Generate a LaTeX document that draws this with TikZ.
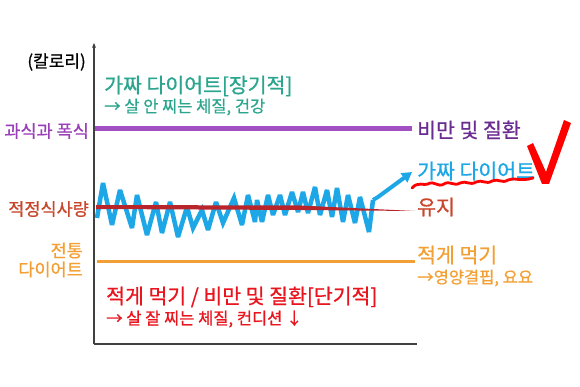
\documentclass[tikz,border=0pt]{standalone}
\usepackage{fontspec}
\setmainfont{Noto Sans CJK KR}[FakeBold=0.8,AutoFakeBold=0.8]
\usetikzlibrary{arrows.meta}
\definecolor{tealtxt}{HTML}{2CA58F}
\definecolor{purpline}{HTML}{A14FC3}
\definecolor{purptxt}{HTML}{9A3FB8}
\definecolor{purpdark}{HTML}{6A2C91}
\definecolor{redline}{HTML}{B8262C}
\definecolor{redtxt}{HTML}{C8472C}
\definecolor{bluez}{HTML}{1EA7E6}
\definecolor{orangez}{HTML}{F2A035}
\definecolor{brightred}{HTML}{E8141E}
\definecolor{axisgray}{HTML}{404040}
\begin{document}
\begin{tikzpicture}[x=1pt,y=-1pt,
  lbl/.style={anchor=west,inner sep=0pt,font=\fontsize{20.5}{22}\bfseries},
  sub/.style={anchor=west,inner sep=0pt,font=\fontsize{16.5}{18}\bfseries},
  left/.style={anchor=east,inner sep=0pt,font=\fontsize{17.5}{19}\bfseries}]
\useasboundingbox (0,0) rectangle (580,387);
% axes
\draw[axisgray,line width=1.5pt,-{Stealth[length=5pt,width=4pt]}] (94,344) -- (94,43);
\draw[axisgray,line width=1.5pt] (94,344) -- (417,344);
% lines
\draw[purpline,line width=5pt] (95,129) -- (412,129);
\draw[orangez,line width=3pt] (97,261) -- (415,261);
% zigzag
\draw[bluez,line width=4.5pt,line join=miter,miter limit=3]
 (97,218) -- (103,183) -- (112,225) -- (120,190) -- (132,228) -- (137,195) -- (147,235)
 -- (156,202) -- (162,233) -- (170,202) -- (178,237) -- (187,207) -- (193,228) -- (202,210)
 -- (208,230) -- (216,202) -- (223,223) -- (234,198) -- (242,225) -- (248,195) -- (255,222)
 -- (257,200) -- (262,222) -- (268,195) -- (273,215) -- (280,195) -- (285,215) -- (292,192)
 -- (298,212) -- (303,192) -- (308,213) -- (315,187) -- (320,215) -- (327,190) -- (332,217)
 -- (337,188) -- (343,222) -- (348,195) -- (355,223) -- (360,197) -- (369,232) -- (373,200);
\draw[bluez,line width=4pt,-{Triangle[length=10pt,width=11pt]}] (373,200) -- (378,197) -- (412,172);
% red line
\fill[redline] (96,205) -- (300,205.5) -- (415,211) -- (300,210) -- (96,209) -- cycle;
% labels
\node[font=\fontsize{17}{19}\bfseries,anchor=east,inner sep=0pt] (cal) at (86,62) {(칼로리)};
\node[lbl,tealtxt] (fake1) at (104,86) {가짜 다이어트[장기적]};
\node[sub,tealtxt] (fake2) at (104,107) {→ 살 안 찌는 체질, 건강};
\node[left,purptxt] (over) at (89,131) {과식과 폭식};
\node[lbl,purpdark] (obese) at (417,130) {비만 및 질환};
\node[lbl,bluez] (fake3) at (417,171) {가짜 다이어트};
\node[left,redtxt] (proper) at (89,209) {적정식사량};
\node[lbl,redtxt] (keep) at (417,207) {유지};
\node[left,orangez,align=right] (trad) at (83,260) {전통\\다이어트};
\node[lbl,orangez] (less) at (417,255) {적게 먹기};
\node[sub,orangez] (less2) at (417,278) {→영양결핍, 요요};
\node[lbl,brightred] (short1) at (106,297) {적게 먹기 / 비만 및 질환[단기적]};
\node[sub,brightred] (short2) at (106,319) {→ 살 잘 찌는 체질, 컨디션 ↓};
% red wave
\draw[red,line width=2.8pt,line cap=round]
 (412,188) .. controls (418,181) and (424,186) .. (428,184)
 .. controls (434,180) and (438,188) .. (444,184)
 .. controls (450,180) and (454,187) .. (460,183)
 .. controls (466,180) and (470,186) .. (476,182)
 .. controls (482,179) and (486,185) .. (492,181)
 .. controls (498,178) and (502,184) .. (508,180)
 .. controls (514,177) and (520,182) .. (533,178);
% red check
\fill[red] (527,146) -- (533,143) -- (546,172) -- (564,120) -- (571,123) -- (549,184) -- (542,184) -- cycle;
\end{tikzpicture}
\end{document}
